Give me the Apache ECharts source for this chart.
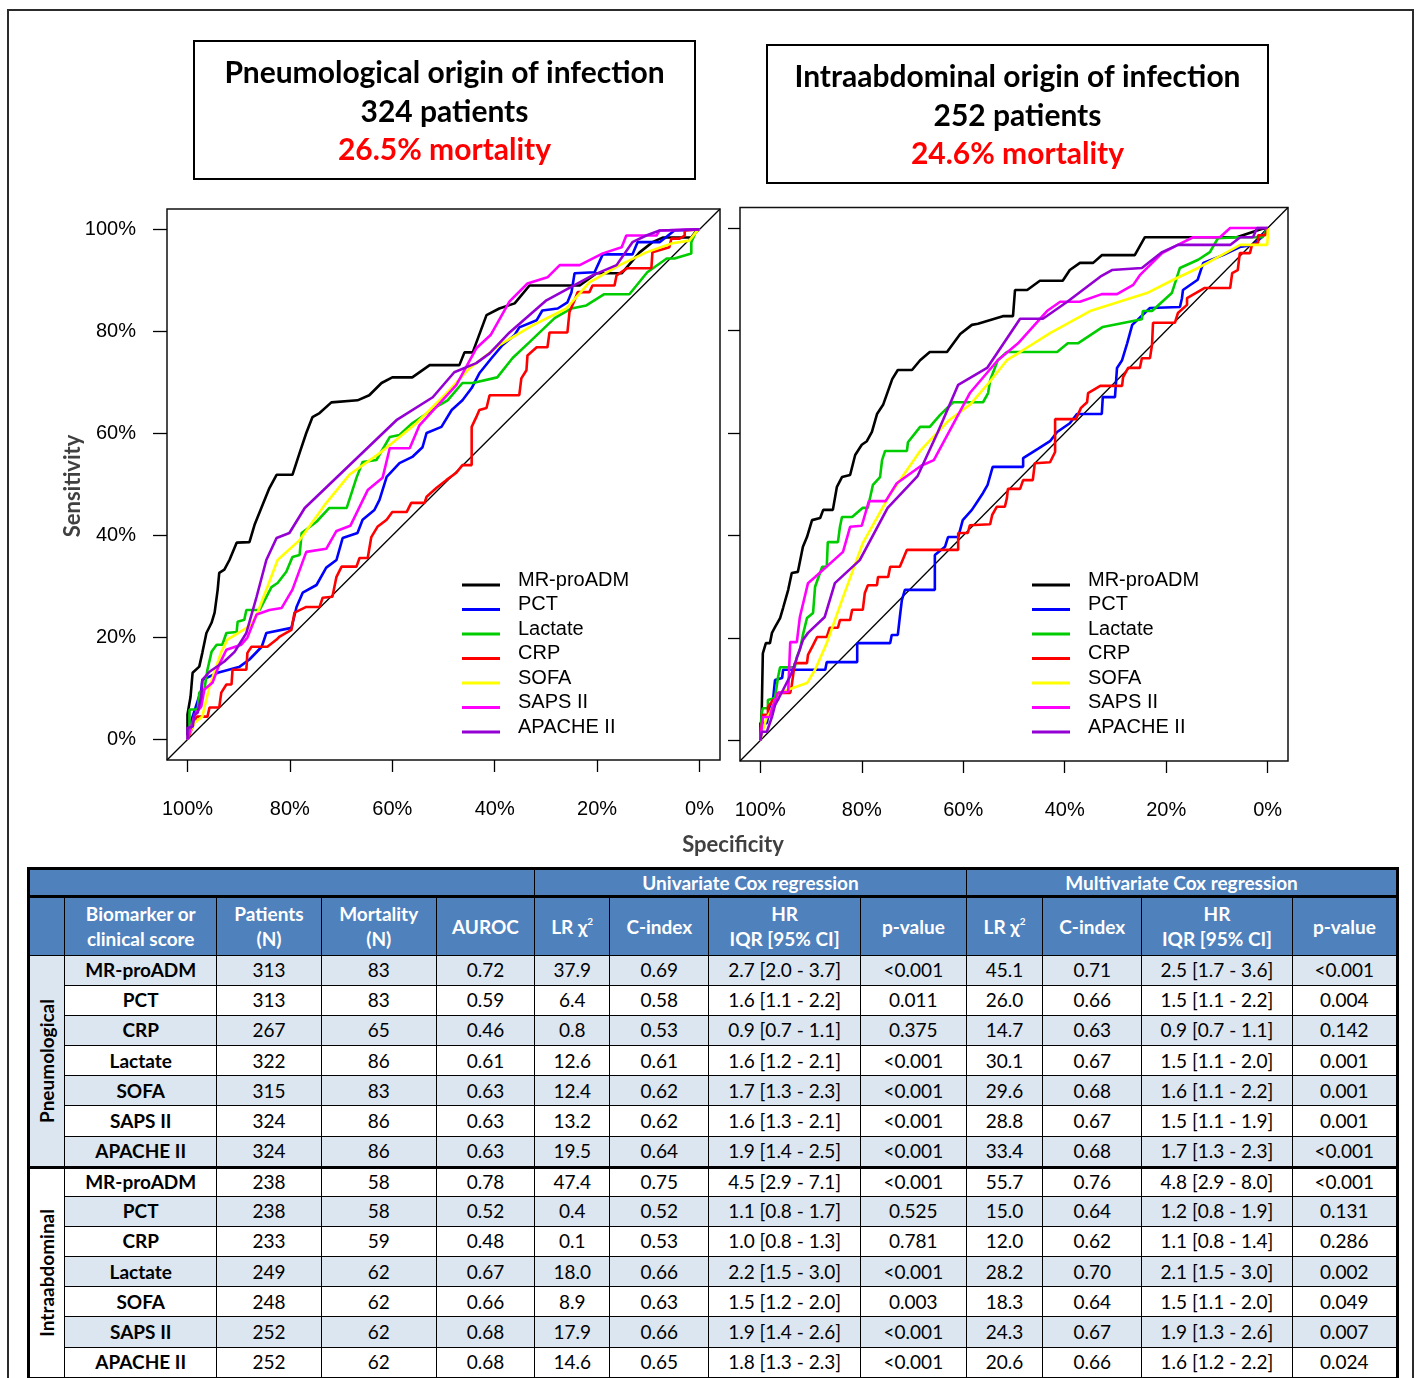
<!DOCTYPE html>
<html>
<head>
<meta charset="utf-8">
<script src="https://cdn.jsdelivr.net/npm/echarts@6.0.0/dist/echarts.min.js"></script>
<style>
html,body{margin:0;padding:0;background:#fff;width:1420px;height:1378px;overflow:hidden;}
#frame{position:absolute;left:7px;top:9px;width:1407px;height:1390px;border:2px solid #2b2b2b;box-sizing:border-box;}
#chart{position:absolute;left:0;top:0;width:1420px;height:865px;}
#tbl{position:absolute;left:27px;top:867px;}
table{border-collapse:collapse;table-layout:fixed;border:3px solid #000;font-family:Lato,"Open Sans",sans-serif;font-size:19px;color:#000;}
td,th{border:1.5px solid #000;padding:0;text-align:center;vertical-align:middle;overflow:hidden;white-space:nowrap;}
th{background:#4F81BD;color:#fff;font-weight:bold;line-height:25px;}
tr.h1 th{height:25px;}
tr.h2 th{height:56.5px;border-top:3px solid #000;}
tr.d td{height:29.2px;line-height:22px;}
tr.alt td{background:#DCE6F1;}
td.name{font-weight:bold;}
tr.d td.grp{font-weight:bold;height:auto;}
tr.sep td{border-top:3px solid #000;}
tr.d.sep td:not(.grp){height:26.8px;}
td.grp div{writing-mode:vertical-rl;transform:rotate(180deg);margin:auto;}
sup{font-size:10px;vertical-align:9px;line-height:0;}
</style>
</head>
<body>
<div id="frame"></div>
<div id="chart"></div>
<div id="tbl"></div>
<script>
// ---------- ROC data: [specificity %, sensitivity %] ----------
const seriesNames = ['MR-proADM','PCT','Lactate','CRP','SOFA','SAPS II','APACHE II'];
const seriesColors = ['#000000','#0000FF','#00CD00','#FF0000','#FFFF00','#FF00FF','#9400D3'];
const tickValues = [0,20,40,60,80,100];

// Pneumological origin
const pneuMRproADM = [[100,0],[100,4.9],[99.4,8.4],[99.0,13.1],[97.7,14.3],[97.1,17.0],[96.3,20.9],[95.3,22.9],[94.7,24.9],[94.1,29.4],[93.8,32.7],[92.8,33.3],[91.8,35.2],[90.4,38.6],[87.9,38.7],[86.9,42.1],[85.5,45.6],[84.0,49.3],[82.6,51.9],[79.5,51.9],[78.1,56.2],[76.8,60.1],[75.6,63.2],[74.2,64.0],[71.9,66.1],[66.8,66.5],[64.5,67.5],[62.1,69.9],[60.0,71.0],[56.1,71.0],[52.7,73.4],[46.9,73.4],[45.9,75.9],[44.3,75.9],[41.6,83.2],[39.1,84.5],[36.1,85.5],[33.2,89.0],[23.4,89.0],[20.1,91.4],[15.2,91.4],[11.7,95.5],[9.2,97.5],[7.2,98.4],[1.6,98.4],[0.6,99.8],[0,100]];
const pneuPCT = [[100,0],[99.6,2.5],[99.0,4.5],[97.3,9.8],[97.1,11.7],[94.1,13.1],[89.8,14.3],[87.9,15.7],[85.5,18.2],[84.6,20.9],[79.7,21.9],[78.7,26.0],[77.5,28.8],[74.8,30.3],[72.9,33.7],[70.9,35.2],[69.7,39.5],[66.8,40.5],[65.8,43.1],[63.5,45.0],[62.5,47.0],[61.1,51.5],[58.6,54.2],[56.1,55.4],[54.1,57.3],[53.3,60.1],[50.4,61.3],[48.4,64.6],[46.3,66.5],[44.5,68.9],[43.0,71.8],[40.6,74.8],[38.5,77.3],[36.1,79.3],[35.2,80.8],[31.8,82.2],[30.7,84.1],[27.7,84.5],[25.8,85.7],[25.0,87.7],[24.4,91.4],[20.5,91.6],[18.9,95.1],[13.1,95.1],[12.1,97.5],[7.8,97.5],[4.9,99.8],[0,100]];
const pneuLactate = [[100,0],[99.6,2.0],[99.6,5.9],[98.0,5.9],[97.7,9.2],[96.7,9.8],[96.1,13.7],[95.3,17.2],[94.3,18.6],[93.2,18.6],[92.4,20.9],[90.4,21.1],[90.2,23.1],[88.9,23.5],[88.5,25.4],[85.9,25.4],[83.6,29.9],[82.4,30.7],[80.7,32.9],[79.5,35.8],[78.1,36.2],[77.7,40.5],[74.8,42.7],[72.3,45.4],[68.9,45.4],[67.0,51.3],[65.8,54.4],[63.1,54.8],[60.5,59.3],[58.6,59.7],[56.1,62.0],[51.4,65.2],[49.2,66.5],[46.3,69.9],[44.3,69.9],[39.5,71.0],[36.5,74.8],[33.2,77.9],[28.3,82.6],[25.0,84.5],[22.1,85.1],[18.6,87.3],[13.7,87.3],[10.2,91.6],[6.4,94.3],[4.9,94.3],[1.6,95.3],[1.6,97.5],[0.6,99.8],[0,100]];
const pneuCRP = [[100,0],[99.2,2.0],[98.2,4.5],[96.1,4.5],[95.7,6.3],[93.8,6.3],[93.4,9.2],[92.4,10.8],[91.4,10.8],[91.2,13.7],[88.5,13.7],[88.3,17.0],[87.5,18.2],[84.4,18.2],[82.6,19.6],[82.0,20.2],[79.7,21.5],[79.1,24.9],[76.8,26.0],[74.2,26.0],[73.6,27.8],[71.7,28.0],[70.9,31.9],[69.9,33.9],[67.0,33.9],[66.4,35.6],[64.8,35.6],[64.1,39.7],[62.9,41.7],[61.1,43.1],[60.0,44.6],[57.2,44.6],[56.3,46.4],[53.7,46.4],[53.3,47.6],[51.4,49.3],[49.4,50.9],[47.5,52.3],[46.3,53.8],[44.5,53.8],[44.5,61.3],[43.6,63.2],[43.0,64.6],[41.6,65.0],[41.0,67.5],[35.2,67.5],[34.8,70.8],[33.8,72.4],[33.6,75.3],[31.8,76.9],[29.7,76.9],[29.3,79.8],[25.8,79.8],[25.4,83.8],[24.4,86.1],[23.8,87.7],[21.5,87.7],[20.9,89.0],[16.6,89.0],[16.2,91.0],[14.1,92.4],[9.4,92.4],[9.2,95.5],[5.9,96.5],[5.5,98.2],[3.9,98.2],[2.9,98.8],[2.9,99.8],[0,100]];
const pneuSOFA = [[100,0],[100,0.6],[98.6,3.3],[97.1,4.5],[95.7,10.4],[93.4,17.2],[92.2,19.6],[87.5,22.5],[86.3,24.9],[84.4,29.9],[82.4,35.2],[78.1,39.1],[73.2,46.0],[68.4,51.9],[62.1,56.4],[55.3,62.0],[49.4,67.9],[44.9,72.8],[39.1,77.3],[32.6,81.2],[26.0,84.5],[21.5,89.6],[15.6,93.0],[10.4,95.5],[5.3,97.3],[2.0,97.8],[0.4,99.8],[0,100]];
const pneuSAPSII = [[100,0],[99.6,1.4],[98.6,4.9],[97.3,6.5],[96.7,9.8],[95.1,11.2],[93.8,14.7],[92.4,17.6],[89.5,18.6],[88.3,20.0],[86.5,24.5],[84.0,25.4],[81.6,25.8],[79.5,29.4],[76.8,36.8],[72.9,37.4],[70.9,40.9],[68.2,41.9],[64.8,48.9],[61.9,51.3],[60.5,57.1],[56.6,57.1],[54.7,61.6],[47.5,69.5],[43.6,76.7],[40.8,79.3],[37.1,85.9],[33.6,89.4],[29.7,90.6],[27.3,93.0],[23.4,93.0],[18.9,95.3],[15.2,96.5],[14.3,98.8],[8.4,98.8],[7.8,99.8],[0,100]];
const pneuAPACHEII = [[100,0],[100,2.3],[99.0,2.5],[98.6,4.9],[98.0,5.3],[97.3,8.4],[97.1,11.7],[95.7,13.3],[92.8,15.3],[90.8,17.2],[88.5,20.9],[86.5,28.0],[84.6,35.2],[82.6,39.5],[80.1,40.5],[77.1,45.4],[59.2,62.6],[52.1,67.1],[47.9,72.0],[43.6,73.8],[41.0,75.7],[37.1,79.8],[29.9,86.1],[20.9,91.0],[16.2,93.0],[13.1,97.5],[10.4,98.8],[7.8,99.8],[0,100]];

// Intraabdominal origin
const abdoMRproADM = [[100,0],[99.7,6.5],[99.5,17.0],[98.9,19.0],[98.1,19.0],[97.7,21.0],[97.1,22.1],[96.1,23.9],[95.5,25.9],[94.5,29.4],[93.8,32.7],[92.6,32.9],[91.6,37.8],[90.8,39.7],[89.8,43.0],[88.2,43.4],[87.6,45.0],[85.7,45.0],[84.9,49.5],[83.9,51.4],[82.3,51.8],[81.3,55.7],[80.0,57.7],[79.0,58.4],[78.0,60.2],[77.0,63.7],[75.8,65.5],[74.0,70.5],[72.9,72.3],[70.1,72.3],[68.5,74.2],[66.6,75.8],[63.2,75.8],[60.6,79.3],[58.3,81.1],[57.1,81.3],[52.2,82.8],[50.2,82.8],[49.8,87.9],[47.4,87.9],[44.9,89.7],[40.4,89.7],[39.0,91.8],[37.0,93.2],[34.4,93.2],[32.7,94.7],[26.2,94.7],[24.2,98.2],[6.1,98.2],[1.2,99.8],[0,100]];
const abdoPCT = [[100,0],[100,3.4],[98.7,3.4],[98.1,6.5],[97.5,7.9],[97.1,11.8],[95.7,12.2],[95.5,13.8],[87.2,13.8],[86.9,15.3],[80.9,15.3],[80.9,19.0],[74.4,19.0],[74.1,20.6],[72.9,20.6],[72.5,24.1],[72.1,27.4],[71.5,29.4],[65.6,29.4],[65.6,36.2],[63.6,37.8],[63.0,39.7],[61.0,39.7],[60.1,43.0],[58.3,45.0],[57.3,46.5],[56.1,48.3],[55.2,49.9],[54.2,53.4],[48.2,53.4],[48.2,55.1],[45.3,56.9],[42.9,58.4],[41.5,60.2],[39.0,61.9],[37.6,63.7],[32.7,63.7],[32.5,67.0],[30.1,67.0],[29.7,72.7],[28.7,74.2],[27.7,77.5],[26.7,81.1],[23.2,84.4],[17.3,84.6],[16.9,86.3],[16.7,87.9],[13.8,89.9],[12.7,93.2],[8.8,94.7],[5.5,96.3],[2.9,96.7],[1.2,98.2],[0,100]];
const abdoLactate = [[100,0],[99.7,5.4],[99.5,6.3],[98.5,6.3],[98.5,7.9],[97.1,8.3],[96.5,12.4],[96.1,14.3],[93.2,14.3],[92.8,16.3],[92.2,17.7],[91.6,20.6],[90.8,23.9],[89.6,24.9],[89.2,30.0],[87.8,33.9],[86.9,33.9],[86.7,38.7],[84.7,38.7],[84.3,41.7],[83.9,43.6],[81.9,43.6],[79.8,45.4],[78.8,45.4],[77.8,49.9],[76.4,51.4],[76.0,54.7],[75.4,56.5],[71.1,56.5],[70.9,58.2],[68.5,61.2],[66.6,61.2],[64.6,63.5],[62.0,66.0],[56.1,66.0],[55.1,67.8],[54.7,70.3],[53.2,74.2],[51.4,75.8],[41.5,75.8],[39.4,77.5],[37.4,77.5],[32.5,80.7],[24.8,82.2],[24.6,83.8],[22.8,83.8],[18.9,87.3],[17.3,92.2],[13.7,93.8],[11.4,95.3],[9.8,98.0],[6.1,98.2],[1.0,98.2],[0,100]];
const abdoCRP = [[100,0],[99.5,5.0],[98.5,5.0],[98.5,6.5],[97.5,7.9],[96.5,7.9],[96.5,9.3],[94.1,9.3],[93.8,10.8],[93.2,15.1],[90.8,15.1],[90.6,16.7],[89.6,18.6],[88.8,20.2],[86.9,20.2],[86.3,22.0],[84.7,22.0],[84.3,23.5],[82.3,23.5],[81.9,25.5],[79.8,25.5],[79.4,28.8],[78.8,30.3],[77.0,30.3],[76.8,31.9],[74.8,31.9],[74.4,33.9],[72.5,33.9],[71.1,37.2],[61.0,37.2],[61.0,40.5],[59.1,40.5],[58.7,42.0],[54.7,42.2],[54.3,44.0],[53.4,45.6],[51.8,45.6],[51.4,47.3],[51.2,49.1],[48.8,49.1],[48.2,50.8],[46.3,50.8],[45.9,54.1],[42.9,54.3],[41.9,56.3],[41.9,62.7],[37.8,62.7],[36.8,64.9],[35.6,66.0],[35.4,67.8],[33.0,69.2],[28.7,69.2],[28.5,70.9],[27.5,72.7],[25.2,72.7],[24.8,74.6],[23.2,74.6],[22.8,77.2],[22.6,81.5],[18.3,81.5],[17.7,83.4],[15.9,85.0],[15.9,86.3],[12.4,88.3],[7.4,88.3],[7.0,91.2],[5.9,91.8],[5.5,95.1],[3.5,95.1],[3.1,96.7],[1.9,97.1],[1.9,98.6],[0.5,98.6],[0,100]];
const abdoSOFA = [[100,0],[99.5,2.0],[98.7,4.6],[98.1,5.4],[97.1,7.9],[95.7,9.5],[90.8,11.2],[89.2,13.8],[86.9,19.0],[83.9,27.4],[79.8,38.5],[74.5,47.9],[68.5,56.5],[62.8,62.5],[58.7,65.5],[54.7,70.1],[51.4,74.2],[48.8,75.8],[42.9,79.5],[35.0,83.8],[23.8,87.3],[18.6,89.9],[13.7,92.2],[8.0,95.3],[5.4,96.7],[0.1,96.7],[0,98.2],[0,100]];
const abdoSAPSII = [[100,0],[99.7,2.6],[99.5,4.6],[98.1,4.6],[97.7,6.3],[96.5,9.3],[94.5,9.5],[94.1,19.2],[92.8,19.2],[92.2,24.1],[90.6,30.7],[89.2,31.9],[83.7,36.8],[82.3,41.7],[80.0,41.9],[78.6,46.7],[75.3,46.7],[73.1,50.2],[68.3,53.6],[65.8,54.7],[58.7,67.8],[53.2,74.2],[49.2,77.5],[43.5,83.8],[40.9,85.6],[37.0,85.6],[32.7,87.1],[29.7,87.1],[26.5,88.9],[25.2,90.8],[20.8,95.1],[17.7,96.7],[14.7,98.2],[9.4,98.2],[7.4,100],[0,100]];
const abdoAPACHEII = [[100,0],[99.7,1.7],[98.7,1.7],[97.7,4.6],[97.1,6.9],[95.5,9.9],[93.8,13.2],[91.6,19.6],[90.6,21.0],[87.3,24.1],[85.3,30.7],[80.4,35.2],[74.9,45.4],[69.0,51.6],[65.0,60.2],[61.0,69.4],[55.3,72.7],[48.8,82.3],[44.3,82.3],[39.5,85.6],[33.0,90.5],[30.7,91.8],[24.8,92.2],[20.8,95.3],[17.7,96.7],[7.4,96.7],[5.4,98.2],[2.9,98.2],[2.1,100],[0,100]];

const chanceLine = [[104,-4],[-4,104]];

// ---------- table data ----------
const tableMarkers = ['MR-proADM','PCT','CRP','Lactate','SOFA','SAPS II','APACHE II'];
const pneuPatients = [313,313,267,322,315,324,324];
const pneuMortality = [83,83,65,86,83,86,86];
const pneuAUROC = [0.72,0.59,0.46,0.61,0.63,0.63,0.63];
const pneuUniLR = [37.9,6.4,0.8,12.6,12.4,13.2,19.5];
const pneuUniC = [0.69,0.58,0.53,0.61,0.62,0.62,0.64];
const pneuUniHR = ['2.7 [2.0 - 3.7]','1.6 [1.1 - 2.2]','0.9 [0.7 - 1.1]','1.6 [1.2 - 2.1]','1.7 [1.3 - 2.3]','1.6 [1.3 - 2.1]','1.9 [1.4 - 2.5]'];
const pneuUniP = ['<0.001','0.011','0.375','<0.001','<0.001','<0.001','<0.001'];
const pneuMultiLR = [45.1,26.0,14.7,30.1,29.6,28.8,33.4];
const pneuMultiC = [0.71,0.66,0.63,0.67,0.68,0.67,0.68];
const pneuMultiHR = ['2.5 [1.7 - 3.6]','1.5 [1.1 - 2.2]','0.9 [0.7 - 1.1]','1.5 [1.1 - 2.0]','1.6 [1.1 - 2.2]','1.5 [1.1 - 1.9]','1.7 [1.3 - 2.3]'];
const pneuMultiP = ['<0.001','0.004','0.142','0.001','0.001','0.001','<0.001'];

const abdoPatients = [238,238,233,249,248,252,252];
const abdoMortality = [58,58,59,62,62,62,62];
const abdoAUROC = [0.78,0.52,0.48,0.67,0.66,0.68,0.68];
const abdoUniLR = [47.4,0.4,0.1,18.0,8.9,17.9,14.6];
const abdoUniC = [0.75,0.52,0.53,0.66,0.63,0.66,0.65];
const abdoUniHR = ['4.5 [2.9 - 7.1]','1.1 [0.8 - 1.7]','1.0 [0.8 - 1.3]','2.2 [1.5 - 3.0]','1.5 [1.2 - 2.0]','1.9 [1.4 - 2.6]','1.8 [1.3 - 2.3]'];
const abdoUniP = ['<0.001','0.525','0.781','<0.001','0.003','<0.001','<0.001'];
const abdoMultiLR = [55.7,15.0,12.0,28.2,18.3,24.3,20.6];
const abdoMultiC = [0.76,0.64,0.62,0.70,0.64,0.67,0.66];
const abdoMultiHR = ['4.8 [2.9 - 8.0]','1.2 [0.8 - 1.9]','1.1 [0.8 - 1.4]','2.1 [1.5 - 3.0]','1.5 [1.1 - 2.0]','1.9 [1.3 - 2.6]','1.6 [1.2 - 2.2]'];
const abdoMultiP = ['<0.001','0.131','0.286','0.002','0.049','0.007','0.024'];

// ---------- chart ----------
const pneuSets = [pneuMRproADM,pneuPCT,pneuLactate,pneuCRP,pneuSOFA,pneuSAPSII,pneuAPACHEII];
const abdoSets = [abdoMRproADM,abdoPCT,abdoLactate,abdoCRP,abdoSOFA,abdoSAPSII,abdoAPACHEII];

const chart = echarts.init(document.getElementById('chart'), null, {renderer:'canvas'});
const tickFont = {fontFamily:'"Liberation Sans", Arial, sans-serif', fontSize:20, color:'#000'};

function xAxisFor(gi){
  return {type:'value', gridIndex:gi, min:-4, max:104, inverse:true, position:'bottom',
    axisLine:{show:false, onZero:false}, splitLine:{show:false},
    axisTick:{show:true, inside:false, length:12, customValues:tickValues, lineStyle:{color:'#000',width:1.3}},
    axisLabel:Object.assign({customValues:tickValues, margin:39, formatter:v=>v+'%'}, tickFont)};
}
function yAxisFor(gi, showLabels){
  return {type:'value', gridIndex:gi, min:-4, max:104, position:'left',
    axisLine:{show:false, onZero:false}, splitLine:{show:false},
    axisTick:{show:true, inside:false, length:gi===0?14:12, customValues:tickValues, lineStyle:{color:'#000',width:1.3}},
    axisLabel:Object.assign({show:showLabels, customValues:tickValues, margin:31, formatter:v=>v+'%'}, tickFont)};
}

const series = [];
[0,1].forEach(gi=>{
  series.push({type:'line', xAxisIndex:gi, yAxisIndex:gi, data:chanceLine, showSymbol:false, silent:true,
    lineStyle:{color:'#000', width:1.3}, itemStyle:{color:'#000'}, z:1});
  const sets = gi===0 ? pneuSets : abdoSets;
  sets.forEach((d,i)=>{
    series.push({type:'line', name:seriesNames[i], xAxisIndex:gi, yAxisIndex:gi, data:d, showSymbol:false,
      silent:true, lineStyle:{color:seriesColors[i], width:2.6}, itemStyle:{color:seriesColors[i]}, z:2});
  });
});

// legend icon: a 3px bar drawn at the bottom of a 13px box (so it sits below the text centre)
const legendIcon = 'path://M0,10L38,10L38,13L0,13Z M0,0L0.01,0L0,0.01Z';
function legendFor(left){
  return {data:seriesNames, orient:'vertical', left:left, top:565, itemWidth:38, itemHeight:13, icon:legendIcon,
    itemGap:4.5, selectedMode:false, padding:5,
    textStyle:{fontFamily:'"Liberation Sans", Arial, sans-serif', fontSize:20, color:'#000', lineHeight:20, padding:[0,0,0,13]}};
}

const titleFont = 'Lato, "Open Sans", sans-serif';
function titleBox(x,y,w,h,l1,l2,l3){
  const cx = x + w/2;
  return [
    {type:'rect', shape:{x:x,y:y,width:w,height:h}, style:{fill:'#fff', stroke:'#000', lineWidth:2}, z:10},
    {type:'text', x:cx, y:y+32, style:{text:l1, fontFamily:titleFont, fontWeight:'bold', fontSize:30, fill:'#000', align:'center', verticalAlign:'middle'}, z:11},
    {type:'text', x:cx, y:y+71, style:{text:l2, fontFamily:titleFont, fontWeight:'bold', fontSize:30, fill:'#000', align:'center', verticalAlign:'middle'}, z:11},
    {type:'text', x:cx, y:y+109, style:{text:l3, fontFamily:titleFont, fontWeight:'bold', fontSize:30, fill:'#FF0000', align:'center', verticalAlign:'middle'}, z:11}
  ];
}

chart.setOption({
  animation:false,
  grid:[
    {left:167, top:209, width:553, height:551, show:true, borderColor:'#111', borderWidth:1.5, backgroundColor:'transparent', outerBoundsMode:'none'},
    {left:740, top:207.5, width:548, height:553.5, show:true, borderColor:'#111', borderWidth:1.5, backgroundColor:'transparent', outerBoundsMode:'none'}
  ],
  xAxis:[xAxisFor(0), xAxisFor(1)],
  yAxis:[yAxisFor(0,true), yAxisFor(1,false)],
  legend:[legendFor(457), legendFor(1027)],
  series:series,
  graphic:[].concat(
    titleBox(194,41,501,138,'Pneumological origin of infection','324 patients','26.5% mortality'),
    titleBox(767,45,501,138,'Intraabdominal origin of infection','252 patients','24.6% mortality'),
    [
      {type:'text', x:73, y:486, rotation:Math.PI/2, style:{text:'Sensitivity', fontFamily:titleFont, fontWeight:'bold', fontSize:22, fill:'#404040', align:'center', verticalAlign:'middle'}},
      {type:'text', x:733, y:845, style:{text:'Specificity', fontFamily:titleFont, fontWeight:'bold', fontSize:22, fill:'#404040', align:'center', verticalAlign:'middle'}}
    ]
  )
});

// ---------- table ----------
const colWidths = [36,152,104,115,98,75,99,151,106,76,99,150,105];
function groupRows(label, patients, mortality, auroc, uLR, uC, uHR, uP, mLR, mC, mHR, mP, altStart, sep){
  let h = '';
  for(let i=0;i<tableMarkers.length;i++){
    const alt = (i%2===0) === altStart;
    let cls = 'd' + (alt?' alt':'') + (i===0 && sep ? ' sep' : '');
    h += '<tr class="'+cls+'">';
    if(i===0){
      h += '<td class="grp" rowspan="7" style="background:'+(altStart?'#DCE6F1':'#fff')+'"><div>'+label+'</div></td>';
    }
    h += '<td class="name">'+tableMarkers[i]+'</td>'+
      '<td>'+patients[i]+'</td><td>'+mortality[i]+'</td><td>'+auroc[i].toFixed(2)+'</td>'+
      '<td>'+uLR[i].toFixed(1)+'</td><td>'+uC[i].toFixed(2)+'</td><td>'+uHR[i]+'</td><td>'+uP[i].replace('<','&lt;')+'</td>'+
      '<td>'+mLR[i].toFixed(1)+'</td><td>'+mC[i].toFixed(2)+'</td><td>'+mHR[i]+'</td><td>'+mP[i].replace('<','&lt;')+'</td></tr>';
  }
  return h;
}
let html = '<table style="width:'+(colWidths.reduce((a,b)=>a+b,0)+6)+'px"><colgroup>'+colWidths.map(w=>'<col style="width:'+w+'px">').join('')+'</colgroup>';
html += '<tr class="h1"><th colspan="5"></th><th colspan="4">Univariate Cox regression</th><th colspan="4">Multivariate Cox regression</th></tr>';
html += '<tr class="h2"><th></th><th>Biomarker or<br>clinical score</th><th>Patients<br>(N)</th><th>Mortality<br>(N)</th><th>AUROC</th><th>LR &#967;<sup>2</sup></th><th>C-index</th><th>HR<br>IQR [95% CI]</th><th>p-value</th><th>LR &#967;<sup>2</sup></th><th>C-index</th><th>HR<br>IQR [95% CI]</th><th>p-value</th></tr>';
html += groupRows('Pneumological', pneuPatients, pneuMortality, pneuAUROC, pneuUniLR, pneuUniC, pneuUniHR, pneuUniP, pneuMultiLR, pneuMultiC, pneuMultiHR, pneuMultiP, true, false);
html += groupRows('Intraabdominal', abdoPatients, abdoMortality, abdoAUROC, abdoUniLR, abdoUniC, abdoUniHR, abdoUniP, abdoMultiLR, abdoMultiC, abdoMultiHR, abdoMultiP, false, true);
html += '</table>';
document.getElementById('tbl').innerHTML = html;
</script>
</body>
</html>
